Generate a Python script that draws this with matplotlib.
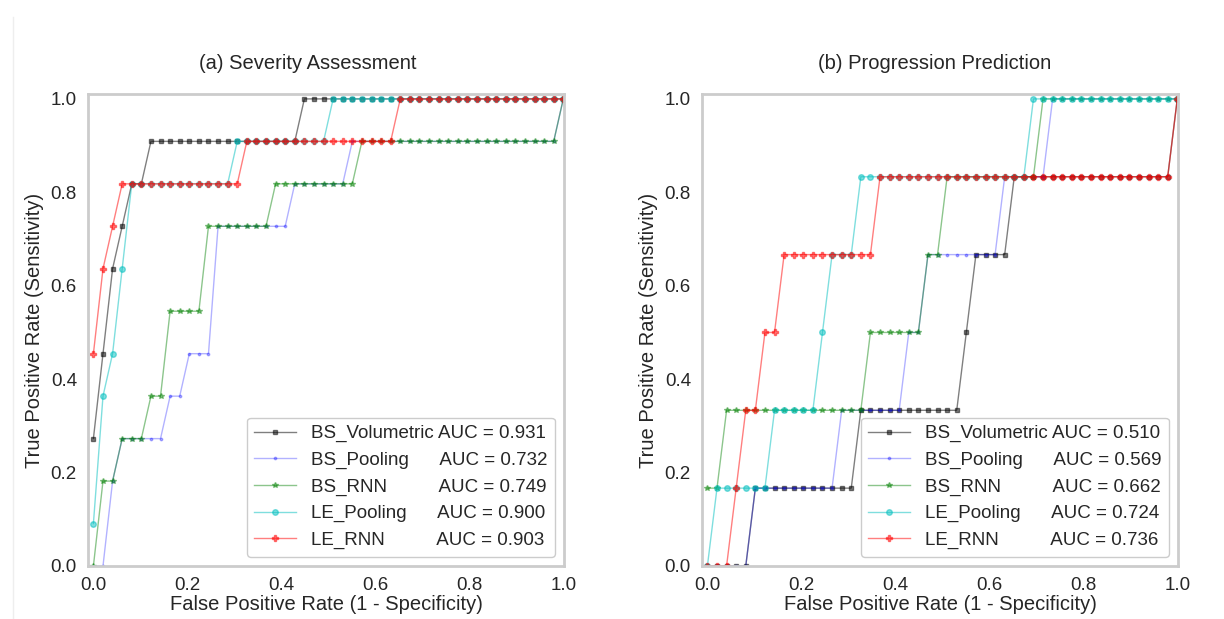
import numpy as np
import matplotlib
matplotlib.use('Agg')
import matplotlib.pyplot as plt
from matplotlib.lines import Line2D

plt.rcParams['font.family'] = ['Liberation Sans', 'DejaVu Sans']
plt.rcParams['text.color'] = '#262626'
plt.rcParams['axes.labelcolor'] = '#262626'
plt.rcParams['xtick.color'] = '#262626'
plt.rcParams['ytick.color'] = '#262626'

# false positive rate grid shared by every curve (50 points, 0..1)
fpr_grid = np.linspace(0, 1, 50)

# (a) severity assessment: true positives out of 11 at each grid point
sev_pos = 11
sev_bs_volumetric = [3, 5, 7, 8, 9, 9, 10, 10, 10, 10,
                     10, 10, 10, 10, 10, 10, 10, 10, 10, 10,
                     10, 10, 11, 11, 11, 11, 11, 11, 11, 11,
                     11, 11, 11, 11, 11, 11, 11, 11, 11, 11,
                     11, 11, 11, 11, 11, 11, 11, 11, 11, 11]
sev_bs_pooling = [0, 0, 2, 3, 3, 3, 3, 3, 4, 4,
                  5, 5, 5, 8, 8, 8, 8, 8, 8, 8,
                  8, 9, 9, 9, 9, 9, 9, 10, 10, 10,
                  10, 10, 10, 10, 10, 10, 10, 10, 10, 10,
                  10, 10, 10, 10, 10, 10, 10, 10, 10, 11]
sev_bs_rnn = [0, 2, 2, 3, 3, 3, 4, 4, 6, 6,
              6, 6, 8, 8, 8, 8, 8, 8, 8, 9,
              9, 9, 9, 9, 9, 9, 9, 9, 10, 10,
              10, 10, 10, 10, 10, 10, 10, 10, 10, 10,
              10, 10, 10, 10, 10, 10, 10, 10, 10, 11]
sev_le_pooling = [1, 4, 5, 7, 9, 9, 9, 9, 9, 9,
                  9, 9, 9, 9, 9, 10, 10, 10, 10, 10,
                  10, 10, 10, 10, 10, 11, 11, 11, 11, 11,
                  11, 11, 11, 11, 11, 11, 11, 11, 11, 11,
                  11, 11, 11, 11, 11, 11, 11, 11, 11, 11]
sev_le_rnn = [5, 7, 8, 9, 9, 9, 9, 9, 9, 9,
              9, 9, 9, 9, 9, 9, 10, 10, 10, 10,
              10, 10, 10, 10, 10, 10, 10, 10, 10, 10,
              10, 10, 11, 11, 11, 11, 11, 11, 11, 11,
              11, 11, 11, 11, 11, 11, 11, 11, 11, 11]
sev_auc = [0.931, 0.732, 0.749, 0.900, 0.903]

# (b) progression prediction: true positives out of 6 at each grid point
prog_pos = 6
prog_bs_volumetric = [0, 0, 0, 0, 0, 1, 1, 1, 1, 1,
                      1, 1, 1, 1, 1, 1, 2, 2, 2, 2,
                      2, 2, 2, 2, 2, 2, 2, 3, 4, 4,
                      4, 4, 5, 5, 5, 5, 5, 5, 5, 5,
                      5, 5, 5, 5, 5, 5, 5, 5, 5, 6]
prog_bs_pooling = [0, 0, 0, 0, 0, 1, 1, 1, 1, 1,
                   1, 1, 1, 1, 2, 2, 2, 2, 2, 2,
                   2, 3, 3, 4, 4, 4, 4, 4, 4, 4,
                   4, 5, 5, 5, 5, 5, 6, 6, 6, 6,
                   6, 6, 6, 6, 6, 6, 6, 6, 6, 6]
prog_bs_rnn = [1, 1, 2, 2, 2, 2, 2, 2, 2, 2,
               2, 2, 2, 2, 2, 2, 2, 3, 3, 3,
               3, 3, 3, 4, 4, 5, 5, 5, 5, 5,
               5, 5, 5, 5, 5, 6, 6, 6, 6, 6,
               6, 6, 6, 6, 6, 6, 6, 6, 6, 6]
prog_le_pooling = [0, 1, 1, 1, 1, 1, 1, 2, 2, 2,
                   2, 2, 3, 4, 4, 4, 5, 5, 5, 5,
                   5, 5, 5, 5, 5, 5, 5, 5, 5, 5,
                   5, 5, 5, 5, 6, 6, 6, 6, 6, 6,
                   6, 6, 6, 6, 6, 6, 6, 6, 6, 6]
prog_le_rnn = [0, 0, 0, 1, 2, 2, 3, 3, 4, 4,
               4, 4, 4, 4, 4, 4, 4, 4, 5, 5,
               5, 5, 5, 5, 5, 5, 5, 5, 5, 5,
               5, 5, 5, 5, 5, 5, 5, 5, 5, 5,
               5, 5, 5, 5, 5, 5, 5, 5, 5, 6]
prog_auc = [0.510, 0.569, 0.662, 0.724, 0.736]

# legend names, padded with spaces so the AUC parts line up
model_names = ['BS_Volumetric ', 'BS_Pooling      ', 'BS_RNN          ',
               'LE_Pooling      ', 'LE_RNN          ']
styles = [
    dict(color='k', marker='s', markersize=3.5, alpha=0.5),
    dict(color='b', marker='.', markersize=3.5, alpha=0.3),
    dict(color='g', marker='*', markersize=4, alpha=0.45),
    dict(color='c', marker='o', markersize=4, alpha=0.5),
    dict(color='r', marker='P', markersize=4.8, alpha=0.5),
]


def draw_roc(ax, curves, n_pos, aucs, title, title_x):
    for tp, name, auc, st in zip(curves, model_names, aucs, styles):
        tpr = np.array(tp) / n_pos
        ax.plot(fpr_grid, tpr, lw=1, label=f'{name}AUC = {auc:.3f}', **st)
    ax.set_xlim(-0.0115, 1.0015)
    ax.set_ylim(0, 1.0105)
    ax.set_xticks([0, 0.2, 0.4, 0.6, 0.8, 1.0])
    ax.set_yticks([0, 0.2, 0.4, 0.6, 0.8, 1.0])
    ax.tick_params(length=0, pad=8, labelsize=13.5)
    for sp in ax.spines.values():
        sp.set_color('#cccccc')
        sp.set_linewidth(2)
    ax.set_title(title, fontsize=14.5, pad=18, x=title_x)
    ax.set_xlabel('False Positive Rate (1 - Specificity)', fontsize=14.5, labelpad=1)
    ax.set_ylabel('True Positive Rate (Sensitivity)', fontsize=14.5, labelpad=5)
    leg = ax.legend(loc='lower right', fontsize=13.5, handlelength=2.2,
                    borderaxespad=0.5, labelspacing=0.5, frameon=True,
                    fancybox=True, framealpha=1)
    leg.get_frame().set_edgecolor('#cccccc')


fig = plt.figure(figsize=(12.24, 6.19), dpi=100)
ax1 = fig.add_axes([88 / 1224, 53 / 619, 476 / 1224, 472 / 619])
ax2 = fig.add_axes([702 / 1224, 53 / 619, 476 / 1224, 472 / 619])

draw_roc(ax1, [sev_bs_volumetric, sev_bs_pooling, sev_bs_rnn, sev_le_pooling, sev_le_rnn],
         sev_pos, sev_auc, '(a) Severity Assessment', 0.462)
draw_roc(ax2, [prog_bs_volumetric, prog_bs_pooling, prog_bs_rnn, prog_le_pooling, prog_le_rnn],
         prog_pos, prog_auc, '(b) Progression Prediction', 0.489)

# faint page edge on the left
fig.add_artist(Line2D([13 / 1224, 13 / 1224], [0, 1 - 17 / 619],
                      transform=fig.transFigure, color='#eeeeee', lw=1))

fig.savefig('out.png', dpi=100)
